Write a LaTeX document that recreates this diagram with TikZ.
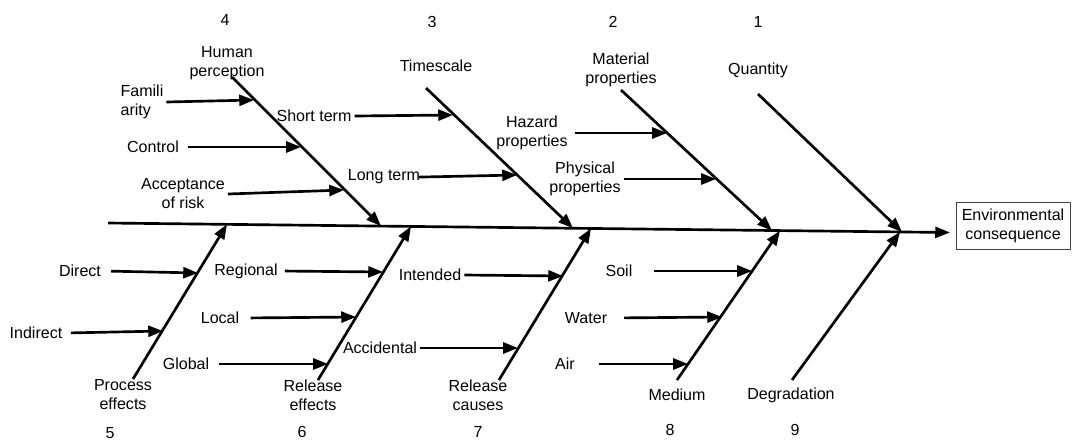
\documentclass[tikz,border=0pt]{standalone}
\usepackage{fontspec}
\setmainfont{Liberation Sans}
\usetikzlibrary{arrows.meta}

\begin{document}
\begin{tikzpicture}[x=0.025cm, y=-0.025cm,
    lbl/.style={font=\fontsize{11.4}{13.5}\selectfont, align=center, inner sep=2pt},
    bone/.style={line width=1.9pt, -{Triangle[length=10.5pt,width=7.8pt]}},
    sub/.style={line width=1.9pt, -{Triangle[length=10.5pt,width=7.8pt]}}]
    \useasboundingbox (0,0) rectangle (1072,443);

    % spine and head box
    \coordinate (tail) at (108,223);
    \coordinate (head) at (950,232.5);
    \draw[bone] (tail) -- (head);
    \node[lbl, draw=black!75, line width=0.6pt, minimum width=81pt, minimum height=33.4pt] (env) at (1013,225.5) {Environmental\\consequence};

    % numbers
    \node[lbl] (n4) at (225,20) {4};
    \node[lbl] (n3) at (432,22) {3};
    \node[lbl] (n2) at (613,22) {2};
    \node[lbl] (n1) at (758,22) {1};
    \node[lbl] (n5) at (110,433) {5};
    \node[lbl] (n6) at (302,432) {6};
    \node[lbl] (n7) at (478,432) {7};
    \node[lbl] (n8) at (670,430) {8};
    \node[lbl] (n9) at (795,430) {9};

    % upper bones
    \node[lbl] (human) at (227,63) {Human\\perception};
    \node[lbl] (timescale) at (436,66) {Timescale};
    \node[lbl] (material) at (621,70) {Material\\properties};
    \node[lbl] (quantity) at (758,70) {Quantity};
    \coordinate (b4s) at (232,77);  \coordinate (b4e) at (381,226.1);
    \coordinate (b3s) at (426,88);  \coordinate (b3e) at (573,228.2);
    \coordinate (b2s) at (621,90);  \coordinate (b2e) at (772,230.5);
    \coordinate (b1s) at (758,94);  \coordinate (b1e) at (902,232);
    \draw[bone] (b4s) -- (b4e);
    \draw[bone] (b3s) -- (b3e);
    \draw[bone] (b2s) -- (b2e);
    \draw[bone] (b1s) -- (b1e);

    % lower bones
    \node[lbl] (process) at (123,395) {Process\\effects};
    \node[lbl] (releff) at (313,395) {Release\\effects};
    \node[lbl] (relcau) at (478,395) {Release\\causes};
    \node[lbl] (medium) at (677,395) {Medium};
    \node[lbl] (degr) at (791,395) {Degradation};
    \coordinate (b5s) at (133,379); \coordinate (b5e) at (227,224.3);
    \coordinate (b6s) at (318,380); \coordinate (b6e) at (411,226.4);
    \coordinate (b7s) at (499,380); \coordinate (b7e) at (591,228.4);
    \coordinate (b8s) at (677,380); \coordinate (b8e) at (780,230.6);
    \coordinate (b9s) at (792,380); \coordinate (b9e) at (900,231.9);
    \draw[bone] (b5s) -- (b5e);
    \draw[bone] (b6s) -- (b6e);
    \draw[bone] (b7s) -- (b7e);
    \draw[bone] (b8s) -- (b8e);
    \draw[bone] (b9s) -- (b9e);

    % causes, upper side
    \node[lbl, align=left] (famili) at (142,102) {Famili\\arity};
    \node[lbl] (control) at (153,147) {Control};
    \node[lbl] (accept) at (183,194) {Acceptance\\of risk};
    \node[lbl] (short) at (314,116) {Short term};
    \node[lbl] (long) at (384,177) {Long term};
    \node[lbl] (hazard) at (532,133) {Hazard\\properties};
    \node[lbl] (physical) at (585,179) {Physical\\properties};
    \coordinate (t-famili) at (254,100);
    \coordinate (t-control) at (301,147);
    \coordinate (t-accept) at (344,190);
    \coordinate (t-short) at (453,115);
    \coordinate (t-long) at (517,175);
    \coordinate (t-hazard) at (667,133);
    \coordinate (t-physical) at (716,179);
    \draw[sub] (famili.east) -- (t-famili);
    \draw[sub, shorten <=4pt] (control.east) -- (t-control);
    \draw[sub] (accept.east) -- (t-accept);
    \draw[sub] (short.east) -- (t-short);
    \draw[sub, shorten <=-3pt] (long.east) -- (t-long);
    \draw[sub, shorten <=3pt] (hazard.east) -- (t-hazard);
    \draw[sub] (physical.east) -- (t-physical);

    % causes, lower side
    \node[lbl] (direct) at (80,271) {Direct};
    \node[lbl] (indirect) at (36,333) {Indirect};
    \node[lbl] (regional) at (246,271) {Regional};
    \node[lbl] (local) at (220,318) {Local};
    \node[lbl] (global) at (186,364) {Global};
    \node[lbl] (intended) at (430,275) {Intended};
    \node[lbl] (accid) at (380,348) {Accidental};
    \node[lbl] (soil) at (619,271) {Soil};
    \node[lbl] (water) at (586,318) {Water};
    \node[lbl] (air) at (565,364) {Air};
    \coordinate (t-direct) at (198,273);
    \coordinate (t-indirect) at (163,331);
    \coordinate (t-regional) at (383,272);
    \coordinate (t-local) at (356,317);
    \coordinate (t-global) at (328,364);
    \coordinate (t-intended) at (563,276);
    \coordinate (t-accid) at (518,348);
    \coordinate (t-soil) at (752,271);
    \coordinate (t-water) at (722,317);
    \coordinate (t-air) at (688,364);
    \draw[sub, shorten <=5pt] (direct.east) -- (t-direct);
    \draw[sub, shorten <=4pt] (indirect.east) -- (t-indirect);
    \draw[sub, shorten <=3pt] (regional.east) -- (t-regional);
    \draw[sub, shorten <=6pt] (local.east) -- (t-local);
    \draw[sub, shorten <=5pt] (global.east) -- (t-global);
    \draw[sub] (intended.east) -- (t-intended);
    \draw[sub] (accid.east) -- (t-accid);
    \draw[sub, shorten <=13pt] (soil.east) -- (t-soil);
    \draw[sub, shorten <=10pt] (water.east) -- (t-water);
    \draw[sub, shorten <=15pt] (air.east) -- (t-air);
\end{tikzpicture}
\end{document}
